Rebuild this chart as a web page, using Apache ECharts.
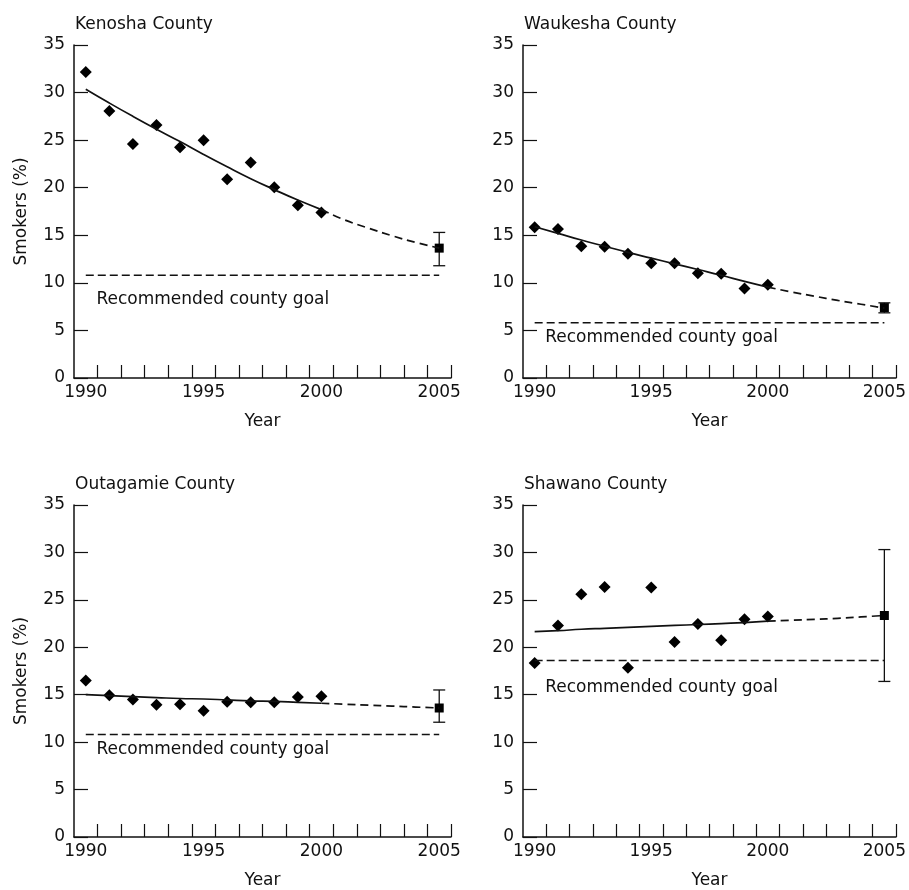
<!DOCTYPE html>
<html lang="en">
<head>
    <meta charset="UTF-8">
    <title>Smokers by county</title>
    <script src="https://cdn.jsdelivr.net/npm/echarts@6/dist/echarts.min.js"></script>
    <style>
        html, body { margin: 0; padding: 0; background: #fff; }
        #main { width: 909px; height: 890px; }
    </style>
</head>
<body>
	<div id="main"></div>
	<script>
	    // data
	    var counties = ['Kenosha County', 'Waukesha County', 'Outagamie County', 'Shawano County'];
	    var years = [1990, 1991, 1992, 1993, 1994, 1995, 1996, 1997, 1998, 1999, 2000];
	    var fitYears = [1990, 1991, 1992, 1993, 1994, 1995, 1996, 1997, 1998, 1999, 2000, 2001, 2002, 2003, 2004, 2005];
	    var xTickLabels = [1990, 1995, 2000, 2005];

	    var kenosha = [32.15, 28.05, 24.6, 26.6, 24.25, 25.0, 20.9, 22.65, 20.05, 18.15, 17.4];
	    var waukesha = [15.85, 15.65, 13.85, 13.8, 13.05, 12.05, 12.05, 11.0, 10.95, 9.4, 9.8];
	    var outagamie = [16.5, 14.95, 14.5, 13.95, 14.0, 13.3, 14.25, 14.2, 14.2, 14.75, 14.85];
	    var shawano = [18.35, 22.3, 25.6, 26.35, 17.85, 26.3, 20.55, 22.45, 20.75, 22.95, 23.25];

	    var kenoshaFit = [30.35, 28.9, 27.5, 26.15, 24.85, 23.5, 22.2, 20.95, 19.8, 18.7, 17.7, 16.6, 15.75, 14.95, 14.25, 13.65];
	    var waukeshaFit = [15.9, 15.2, 14.5, 13.85, 13.2, 12.6, 12.0, 11.4, 10.8, 10.15, 9.55, 9.05, 8.6, 8.15, 7.75, 7.35];
	    var outagamieFit = [15.0, 14.9, 14.8, 14.7, 14.6, 14.55, 14.45, 14.35, 14.3, 14.2, 14.1, 14.0, 13.9, 13.8, 13.7, 13.6];
	    var shawanoFit = [21.65, 21.75, 21.9, 22.0, 22.1, 22.2, 22.3, 22.4, 22.5, 22.6, 22.75, 22.85, 22.95, 23.05, 23.2, 23.35];

	    // 2005 estimate: value, lower, upper
	    var kenoshaEst = [13.65, 11.8, 15.3];
	    var waukeshaEst = [7.4, 6.85, 7.9];
	    var outagamieEst = [13.6, 12.1, 15.5];
	    var shawanoEst = [23.35, 16.4, 30.3];

	    var goals = [10.8, 5.8, 10.8, 18.6];

	    var obsList = [kenosha, waukesha, outagamie, shawano];
	    var fitList = [kenoshaFit, waukeshaFit, outagamieFit, shawanoFit];
	    var estList = [kenoshaEst, waukeshaEst, outagamieEst, shawanoEst];

	    var font = 'DejaVu Sans';
	    var fs = 17;
	    var ink = '#111';
	    var gridPos = [
	        { left: 74, top: 45 },
	        { left: 523, top: 45 },
	        { left: 74, top: 505 },
	        { left: 523, top: 505 }
	    ];
	    var goalTextY = [8.2, 4.27, 9.25, 15.7];

	    var xTicks = [];
	    for (var t = 1990.5; t <= 2005.5; t += 1) xTicks.push(t);

	    function pairs(xs, ys) {
	        return xs.map(function (x, i) { return [x, ys[i]]; });
	    }

	    var option = {
	        animation: false,
	        textStyle: { fontFamily: font },
	        title: [],
	        grid: [],
	        xAxis: [],
	        yAxis: [],
	        series: []
	    };

	    counties.forEach(function (name, i) {
	        option.title.push({
	            text: name,
	            left: gridPos[i].left + 1,
	            top: gridPos[i].top - 29,
	            padding: 0,
	            textStyle: { fontFamily: font, fontSize: fs, fontWeight: 'normal', color: ink }
	        });
	        option.grid.push({ left: gridPos[i].left, top: gridPos[i].top, width: 377, height: 333 });
	        option.xAxis.push({
	            type: 'value',
	            gridIndex: i,
	            min: 1989.5,
	            max: 2005.5,
	            name: 'Year',
	            nameLocation: 'middle',
	            nameGap: 35,
	            nameTextStyle: { fontFamily: font, fontSize: fs, color: ink },
	            splitLine: { show: false },
	            axisLine: { lineStyle: { color: ink, width: 1.5 } },
	            axisTick: { inside: true, length: 13, customValues: xTicks, lineStyle: { color: ink, width: 1.2 } },
	            axisLabel: {
	                customValues: xTickLabels, margin: 6, fontFamily: font, fontSize: fs, color: ink,
	                formatter: function (v) { return String(Math.round(v)); }
	            }
	        });
	        option.yAxis.push({
	            type: 'value',
	            gridIndex: i,
	            min: 0,
	            max: 35,
	            interval: 5,
	            name: i % 2 === 0 ? 'Smokers (%)' : '',
	            nameLocation: 'middle',
	            nameGap: 44,
	            nameTextStyle: { fontFamily: font, fontSize: fs, color: ink },
	            splitLine: { show: false },
	            axisLine: { show: true, lineStyle: { color: ink, width: 1.5 } },
	            axisTick: { show: true, inside: true, length: 14, lineStyle: { color: ink, width: 1.2 } },
	            axisLabel: { margin: 9, fontFamily: font, fontSize: fs, color: ink }
	        });

	        var fit = fitList[i];
	        var est = estList[i];

	        // fitted trend, observed period
	        option.series.push({
	            type: 'line', xAxisIndex: i, yAxisIndex: i,
	            data: pairs(fitYears.slice(0, 11), fit.slice(0, 11)),
	            smooth: true, symbol: 'none',
	            lineStyle: { color: ink, width: 1.7 }
	        });
	        // projection to 2005
	        option.series.push({
	            type: 'line', xAxisIndex: i, yAxisIndex: i,
	            data: pairs(fitYears.slice(10), fit.slice(10)),
	            smooth: true, symbol: 'none',
	            lineStyle: { color: ink, width: 1.7, type: [8, 5] }
	        });
	        // recommended goal
	        option.series.push({
	            type: 'line', xAxisIndex: i, yAxisIndex: i,
	            data: [[1990, goals[i]], [2005, goals[i]]],
	            symbol: 'none',
	            lineStyle: { color: ink, width: 1.6, type: [8, 4] }
	        });
	        // observed values
	        option.series.push({
	            type: 'scatter', xAxisIndex: i, yAxisIndex: i,
	            data: pairs(years, obsList[i]),
	            symbol: 'diamond', symbolSize: 12,
	            itemStyle: { color: '#000', opacity: 1 }
	        });
	        // 2005 error bar
	        option.series.push({
	            type: 'custom', xAxisIndex: i, yAxisIndex: i,
	            data: [[2005, est[1], est[2]]],
	            encode: { x: 0, y: [1, 2] },
	            renderItem: function (params, api) {
	                var top = api.coord([api.value(0), api.value(2)]);
	                var bot = api.coord([api.value(0), api.value(1)]);
	                var w = 6;
	                var st = { stroke: ink, lineWidth: 1.3 };
	                return {
	                    type: 'group',
	                    children: [
	                        { type: 'line', shape: { x1: top[0], y1: top[1], x2: bot[0], y2: bot[1] }, style: st },
	                        { type: 'line', shape: { x1: top[0] - w, y1: top[1], x2: top[0] + w, y2: top[1] }, style: st },
	                        { type: 'line', shape: { x1: bot[0] - w, y1: bot[1], x2: bot[0] + w, y2: bot[1] }, style: st }
	                    ]
	                };
	            }
	        });
	        // 2005 estimate
	        option.series.push({
	            type: 'scatter', xAxisIndex: i, yAxisIndex: i,
	            data: [[2005, est[0]]],
	            symbol: 'rect', symbolSize: 9,
	            itemStyle: { color: '#000', opacity: 1 }
	        });
	        // goal caption
	        option.series.push({
	            type: 'scatter', xAxisIndex: i, yAxisIndex: i,
	            data: [[1990.45, goalTextY[i]]],
	            symbolSize: 0,
	            silent: true,
	            itemStyle: { opacity: 1 },
	            label: {
	                show: true, position: 'right', distance: 0,
	                formatter: 'Recommended county goal',
	                fontFamily: font, fontSize: fs, color: ink
	            }
	        });
	    });

	    var myChart = echarts.init(document.getElementById('main'));
	    myChart.setOption(option);
	</script>
</body>
</html>
